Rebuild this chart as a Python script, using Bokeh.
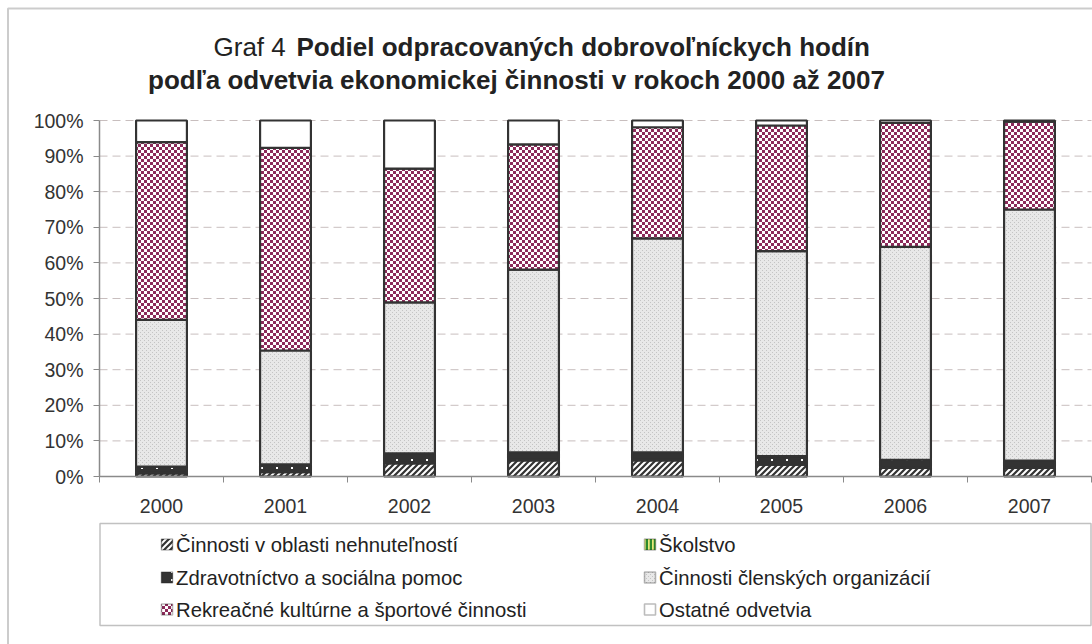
import base64
from bokeh.plotting import figure
from bokeh.models import (Range1d, FixedTicker, PrintfTickFormatter, BoxAnnotation,
                          Label, ColumnDataSource, ImageURLTexture)
from bokeh.core.properties import value
from bokeh.embed import file_html
from bokeh.resources import INLINE

# ---------------- data (percent shares) ----------------
years = ["2000", "2001", "2002", "2003", "2004", "2005", "2006", "2007"]
nehnutelnosti = [0.9, 1.2, 3.7, 4.5, 4.5, 3.3, 2.4, 2.4]
skolstvo = [0.2, 0.2, 0.2, 0.2, 0.2, 0.2, 0.2, 0.2]
zdravotnictvo = [1.7, 2.0, 2.6, 2.1, 2.1, 2.2, 2.1, 1.9]
clenske = [41.2, 32.0, 42.4, 51.3, 60.1, 57.6, 59.8, 70.5]
rekreacne = [49.9, 56.9, 37.6, 35.2, 31.2, 35.3, 34.8, 24.7]
ostatne = [6.1, 7.7, 13.5, 6.7, 1.9, 1.4, 0.7, 0.3]

series_keys = ["nehn", "skol", "zdrav", "clen", "rekr", "ost"]
series_names = ["Činnosti v oblasti nehnuteľností", "Školstvo",
                "Zdravotníctvo a sociálna pomoc", "Činnosti členských organizácií",
                "Rekreačné kultúrne a športové činnosti", "Ostatné odvetvia"]
y_ticks = [0, 10, 20, 30, 40, 50, 60, 70, 80, 90, 100]
title_lead = "Graf 4"
title_bold_1 = "Podiel odpracovaných dobrovoľníckych hodín"
title_bold_2 = "podľa odvetvia ekonomickej činnosti v rokoch 2000 až 2007"

# ---------------- styles ----------------
FONT = "Liberation Sans"
W, H = 1092, 644
AX_X, AX_TOP, AX_BOTTOM, AX_RIGHT = 99, 120, 476, 1091   # page pixels of the plot area
n = len(years)
CAT_W = (AX_RIGHT - AX_X) / n
PX_PER_PCT = (AX_BOTTOM - AX_TOP) / 100


def svg_uri(svg):
    return "data:image/svg+xml;base64," + base64.b64encode(svg.encode()).decode()


checker_svg = ('<svg xmlns="http://www.w3.org/2000/svg" width="6" height="6" shape-rendering="crispEdges">'
               '<rect width="6" height="6" fill="#ffffff"/>'
               '<rect width="3" height="3" fill="#8c2a5a"/>'
               '<rect x="3" y="3" width="3" height="3" fill="#8c2a5a"/></svg>')
dots_svg = ('<svg xmlns="http://www.w3.org/2000/svg" width="15" height="8" shape-rendering="crispEdges">'
            '<rect width="15" height="8" fill="#333333"/>'
            '<rect x="6" y="3" width="2" height="2" fill="#ffffff"/></svg>')
stipple_svg = ('<svg xmlns="http://www.w3.org/2000/svg" width="4" height="4" shape-rendering="crispEdges">'
               '<rect width="4" height="4" fill="#e8e8e8"/>'
               '<rect width="1" height="1" fill="#c4c4c4"/>'
               '<rect x="2" y="2" width="1" height="1" fill="#c4c4c4"/></svg>')
diag_svg = ('<svg xmlns="http://www.w3.org/2000/svg" width="6" height="6">'
            '<rect width="6" height="6" fill="#333333"/>'
            '<path d="M-1,4 L4,-1 M2,7 L7,2" stroke="#ffffff" stroke-width="2"/></svg>')
textures = {"checker": ImageURLTexture(url=svg_uri(checker_svg)),
            "sparsedots": ImageURLTexture(url=svg_uri(dots_svg)),
            "stipple": ImageURLTexture(url=svg_uri(stipple_svg)),
            "diag": ImageURLTexture(url=svg_uri(diag_svg))}

fill_colors = ["#333333", "#e8e87a", "#333333", "#e4e4e4", "#ffffff", "#ffffff"]
hatch_names = ["diag", "vertical_line", "sparsedots", "stipple", "checker", "blank"]
hatch_colors = ["#ffffff", "#2e8b2e", "#ffffff", "#c8c8c8", "#8c2a5a", "#ffffff"]
hatch_scales = [6, 5, 6, 6, 6, 6]
hatch_weights = [1, 2.5, 1, 1, 1, 1]

x_centers = [i + 0.5 for i in range(n)]
source = ColumnDataSource(dict(x=x_centers, nehn=nehnutelnosti, skol=skolstvo,
                               zdrav=zdravotnictvo, clen=clenske, rekr=rekreacne,
                               ost=ostatne))


# page pixel -> data coordinate helpers (layout only)
def px_x(page_x):
    return (page_x - AX_X) / CAT_W


def px_y(page_y):
    return (AX_BOTTOM - page_y) / PX_PER_PCT


p = figure(width=W, height=H, min_border=0,
           x_range=Range1d(px_x(0), px_x(W)), y_range=Range1d(px_y(H), px_y(0)),
           output_backend="svg", toolbar_location=None, tools="")
p.background_fill_color = "white"
p.border_fill_color = "white"
p.outline_line_color = None
p.xgrid.visible = False
p.ygrid.visible = False

# dashed horizontal gridlines across the plot area only
p.segment(x0=[0] * len(y_ticks), x1=[n] * len(y_ticks), y0=y_ticks, y1=y_ticks,
          line_color="#c8bebe", line_dash="8 5", line_width=1)

p.vbar_stack(series_keys, x="x", width=0.41, source=source,
             fill_color=fill_colors, hatch_pattern=[value(h) for h in hatch_names],
             hatch_color=hatch_colors, hatch_scale=hatch_scales,
             hatch_weight=hatch_weights, hatch_extra=textures,
             line_color="#333333", line_width=2.2)

# axes drawn at fixed data locations
p.yaxis.fixed_location = 0
p.yaxis.bounds = (0, 100)
p.yaxis.ticker = FixedTicker(ticks=y_ticks)
p.yaxis.formatter = PrintfTickFormatter(format="%d%%")
p.yaxis.major_tick_out = 6
p.yaxis.major_tick_in = 0
p.yaxis.minor_tick_out = 0
p.yaxis.minor_tick_in = 0
p.yaxis.major_label_standoff = 10

p.xaxis.fixed_location = 0
p.xaxis.bounds = (0, n)
p.xaxis.ticker = FixedTicker(ticks=x_centers, minor_ticks=list(range(0, n + 1)))
p.xaxis.major_label_overrides = {c: y for c, y in zip(x_centers, years)}
p.xaxis.major_tick_out = 0
p.xaxis.major_tick_in = 0
p.xaxis.minor_tick_out = 6
p.xaxis.minor_tick_in = 0
p.xaxis.major_label_standoff = 16

for ax in (p.xaxis, p.yaxis):
    ax.axis_line_color = "#8a8a8a"
    ax.axis_line_width = 1.5
    ax.major_tick_line_color = "#8a8a8a"
    ax.minor_tick_line_color = "#8a8a8a"
    ax.major_label_text_font = FONT
    ax.major_label_text_font_size = "19.5px"
    ax.major_label_text_color = "#333333"

# outer chart border (left and top visible in the window)
p.add_layout(BoxAnnotation(left=px_x(7.5), right=px_x(1300), top=px_y(8), bottom=px_y(900),
                           fill_alpha=0, line_color="#555555", line_width=2))

# title
p.add_layout(Label(x=px_x(213), y=px_y(46), text=title_lead, text_font=FONT,
                   text_font_size="26px", text_color="#222222", text_baseline="middle",
                   text_align="left"))
p.add_layout(Label(x=px_x(296), y=px_y(46), text=title_bold_1, text_font=FONT,
                   text_font_size="26px", text_font_style="bold", text_color="#222222",
                   text_baseline="middle", text_align="left"))
p.add_layout(Label(x=px_x(516), y=px_y(79), text=title_bold_2, text_font=FONT,
                   text_font_size="26px", text_font_style="bold", text_color="#222222",
                   text_baseline="middle", text_align="center"))

# legend box and items
p.add_layout(BoxAnnotation(left=px_x(99.5), right=px_x(1090.5), top=px_y(523), bottom=px_y(625),
                           fill_alpha=0, line_color="#333333", line_width=1.5))
col_x = [166.5, 649.5]
row_y = [544, 577, 609]
for i, name in enumerate(series_names):
    r, c = i // 2, i % 2
    cx, cy = col_x[c], row_y[r]
    p.add_layout(BoxAnnotation(left=px_x(cx - 5.5), right=px_x(cx + 5.5),
                               top=px_y(cy - 5.5), bottom=px_y(cy + 5.5),
                               fill_color=fill_colors[i], fill_alpha=1,
                               hatch_pattern=hatch_names[i], hatch_color=hatch_colors[i],
                               hatch_scale=min(hatch_scales[i], 4), hatch_weight=hatch_weights[i],
                               hatch_extra=textures, line_alpha=0))
    # swatch frame drawn on top of the pattern
    p.add_layout(BoxAnnotation(left=px_x(cx - 5.5), right=px_x(cx + 5.5),
                               top=px_y(cy - 5.5), bottom=px_y(cy + 5.5),
                               fill_alpha=0, line_color="#222222", line_width=1.6))
    p.add_layout(Label(x=px_x(cx + 9), y=px_y(cy), text=name, text_font=FONT,
                       text_font_size="20.3px", text_color="#222222",
                       text_baseline="middle", text_align="left"))

open("out.html", "w").write(file_html(p, INLINE))
